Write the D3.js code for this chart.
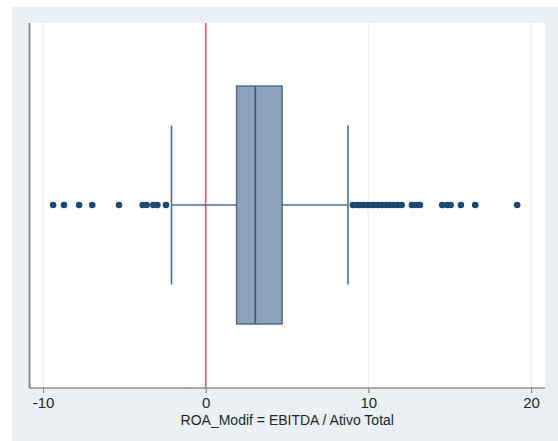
<!DOCTYPE html>
<html>
<head>
<meta charset="utf-8">
<script src="https://cdn.jsdelivr.net/npm/d3@7"></script>
<style>
  html, body { margin: 0; padding: 0; background: #ffffff; }
  svg { display: block; }
  text { font-family: "Liberation Sans Narrow", "Liberation Sans", Arial, sans-serif; fill: #262626; }
</style>
</head>
<body>
<svg id="chart" width="558" height="441"></svg>
<script>
// Box summary for ROA_Modif (EBITDA / Ativo Total)
const boxStats = { lowerWhisker: -2.1, q1: 1.9, median: 3.05, q3: 4.7, upperWhisker: 8.75 };

// Outlying observations beyond the whiskers
const outliersLow = [-9.38, -8.71, -7.78, -6.97, -5.33, -3.87, -3.63, -3.22, -2.97, -2.44];
const outliersHigh = [9.05, 9.3, 9.45, 9.7, 9.95, 10.2, 10.35, 10.6, 10.85, 11.1, 11.3, 11.55, 11.8, 12.05,
                      12.68, 12.93, 13.17, 14.54, 14.85, 15.06, 15.69, 16.57, 19.15];

const tickValues = [-10, 0, 10, 20];
const referenceLine = 0;
const axisTitle = "ROA_Modif = EBITDA / Ativo Total";

const svg = d3.select("#chart");
const W = 558, H = 441;
const plot = { left: 29.5, right: 545, top: 23, bottom: 388 };

// outer graph region
svg.append("rect").attr("x", 12).attr("y", 7).attr("width", W - 12).attr("height", H - 7)
  .attr("fill", "#eaf0f3");
svg.append("rect").attr("x", plot.left).attr("y", plot.top)
  .attr("width", plot.right - plot.left).attr("height", plot.bottom - plot.top)
  .attr("fill", "#ffffff");

const x = d3.scaleLinear().domain([-10.83, 20.86]).range([plot.left, plot.right]);
const yMid = 205;
const boxHalf = 119;
const capHalf = 79.5;

// faint vertical gridlines
svg.append("g").selectAll("line").data(tickValues.filter(v => v !== referenceLine)).join("line")
  .attr("x1", d => x(d)).attr("x2", d => x(d))
  .attr("y1", plot.top).attr("y2", plot.bottom)
  .attr("stroke", "#eaf0f3").attr("stroke-width", 1.2);

// reference line at zero
svg.append("line")
  .attr("x1", x(referenceLine)).attr("x2", x(referenceLine))
  .attr("y1", plot.top).attr("y2", plot.bottom)
  .attr("stroke", "#e0566f").attr("stroke-width", 1.6);

const lineColor = "#4d6d8e";

// whisker lines
svg.append("line").attr("x1", x(boxStats.lowerWhisker)).attr("x2", x(boxStats.q1))
  .attr("y1", yMid).attr("y2", yMid).attr("stroke", lineColor).attr("stroke-width", 1.4);
svg.append("line").attr("x1", x(boxStats.q3)).attr("x2", x(boxStats.upperWhisker))
  .attr("y1", yMid).attr("y2", yMid).attr("stroke", lineColor).attr("stroke-width", 1.4);

// whisker caps
[boxStats.lowerWhisker, boxStats.upperWhisker].forEach(v => {
  svg.append("line").attr("x1", x(v)).attr("x2", x(v))
    .attr("y1", yMid - capHalf).attr("y2", yMid + capHalf)
    .attr("stroke", lineColor).attr("stroke-width", 1.6);
});

// box
svg.append("rect")
  .attr("x", x(boxStats.q1)).attr("y", yMid - boxHalf)
  .attr("width", x(boxStats.q3) - x(boxStats.q1)).attr("height", 2 * boxHalf)
  .attr("fill", "#8ca2b9").attr("stroke", "#4a6a8b").attr("stroke-width", 1.4);
svg.append("line").attr("x1", x(boxStats.median)).attr("x2", x(boxStats.median))
  .attr("y1", yMid - boxHalf).attr("y2", yMid + boxHalf)
  .attr("stroke", "#3f5f80").attr("stroke-width", 1.8);

// outliers
svg.append("g").selectAll("circle").data(outliersLow.concat(outliersHigh)).join("circle")
  .attr("cx", d => x(d)).attr("cy", yMid).attr("r", 3.3)
  .attr("fill", "#1d4872");

// axes
const axisColor = "#8c8c8c";
svg.append("line").attr("x1", plot.left).attr("x2", plot.left)
  .attr("y1", plot.top).attr("y2", plot.bottom)
  .attr("stroke", axisColor).attr("stroke-width", 2);

const xAxis = d3.axisBottom(x).tickValues(tickValues).tickSize(5).tickPadding(4)
  .tickFormat(d3.format("d"));
const gx = svg.append("g").attr("transform", `translate(0,${plot.bottom})`).call(xAxis);
gx.select(".domain").attr("d", `M${plot.left},0H${plot.right}`)
  .attr("stroke", axisColor).attr("stroke-width", 1.4);
gx.selectAll(".tick line").attr("stroke", axisColor).attr("stroke-width", 1.2);
gx.selectAll(".tick text").attr("font-size", 15).attr("fill", "#262626")
  .style("font-family", "'Liberation Sans Narrow', 'Liberation Sans', Arial, sans-serif")
  .text(d => d < 0 ? "-" + Math.abs(d) : d);

svg.append("text")
  .attr("x", (plot.left + plot.right) / 2).attr("y", 425)
  .attr("text-anchor", "middle").attr("font-size", 14)
  .text(axisTitle);
</script>
</body>
</html>
